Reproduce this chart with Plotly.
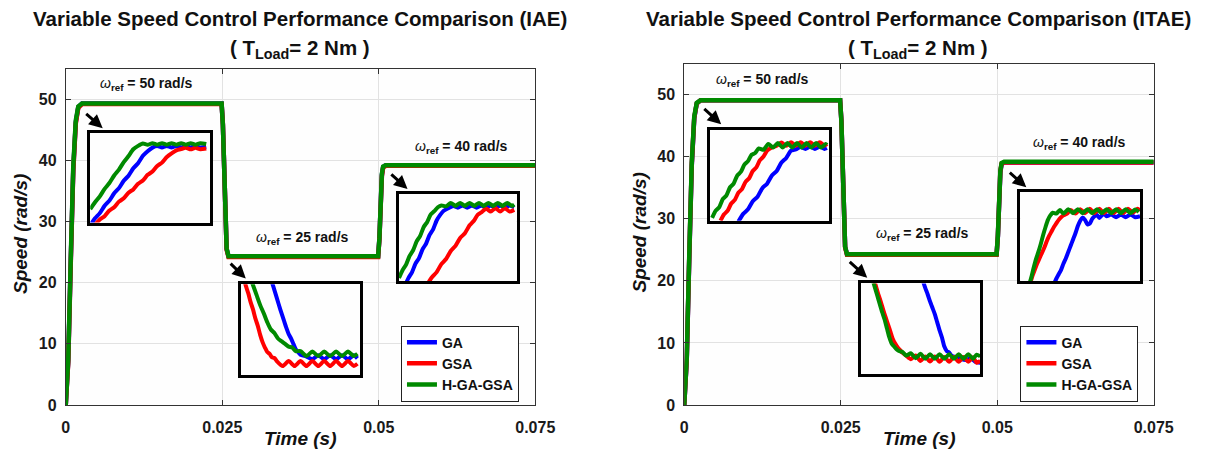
import plotly.graph_objects as go

FONT = "Liberation Sans, Arial, Helvetica, sans-serif"
W, H = 1210, 463

# ---------------- data ----------------
x_ticks = [0, 0.025, 0.05, 0.075]
x_tick_labels = ["0", "0.025", "0.05", "0.075"]
y_ticks = [0, 10, 20, 30, 40, 50]
y_tick_labels = ["0", "10", "20", "30", "40", "50"]
series_names = ["GA", "GSA", "H-GA-GSA"]
series_colors = ["#0000FF", "#FF0000", "#008A00"]

# main time-speed responses (s, rad/s)
t_main = [0, 0.0004, 0.0008, 0.0012, 0.0016, 0.0020, 0.0026, 0.0249, 0.0251, 0.0253,
          0.0255, 0.0257, 0.0260, 0.0499, 0.0501, 0.0503, 0.0505, 0.0507, 0.0511, 0.075]
iae_ga = [0, 7.2, 23.5, 38.5, 46.2, 48.7, 49.3, 49.3, 45.9, 37.9, 29.9, 25.5, 24.3, 24.3, 27.1, 33.2, 37.6, 38.9, 39.2, 39.2]
iae_gsa = [0, 7.0, 23.2, 38.2, 46.0, 48.6, 49.2, 49.2, 46.0, 38.0, 30.0, 25.4, 24.2, 24.2, 27.0, 33.0, 37.4, 38.8, 39.1, 39.1]
iae_hgagsa = [0, 7.5, 24, 39, 46.5, 48.8, 49.3, 49.3, 45.8, 37.8, 29.8, 25.6, 24.3, 24.3, 27.2, 33.5, 37.8, 39, 39.2, 39.2]
itae_ga = [0, 7.2, 23.5, 38.5, 46.2, 48.6, 49.1, 49.1, 45.9, 37.9, 29.9, 25.5, 24.3, 24.3, 27.1, 33.2, 37.5, 38.8, 39.1, 39.1]
itae_gsa = [0, 7.3, 23.7, 38.7, 46.3, 48.6, 49.1, 49.1, 45.9, 37.9, 29.9, 25.4, 24.2, 24.2, 27.2, 33.3, 37.7, 38.9, 39.1, 39.1]
itae_hgagsa = [0, 7.5, 24, 39, 46.5, 48.7, 49.1, 49.1, 45.8, 37.8, 29.8, 25.5, 24.3, 24.3, 27.3, 33.5, 37.8, 39, 39.2, 39.2]

# zoomed insets (normalised 0-100 within each inset window)
# IAE, omega_ref = 50
iae50_ga_x = [0, 4, 8, 12, 16, 20, 24, 28, 32, 36, 40, 44, 48, 52, 56, 60, 64, 68, 72, 76, 80, 84, 88, 92, 97]
iae50_ga_y = [-3, 4.8, 10.6, 18.8, 24.6, 32.8, 38.6, 46.8, 52.6, 60.8, 66.6, 74.8, 80, 84, 85.8, 84.2, 85.8, 84.2, 85.8, 84.2, 85.8, 84.2, 85.8, 84.2, 85]
iae50_gsa_x = [4, 8, 12, 16, 20, 24, 28, 32, 36, 40, 44, 48, 52, 56, 60, 64, 68, 72, 76, 80, 84, 88, 92, 97]
iae50_gsa_y = [-2.3, 3.5, 7.2, 13.5, 17.2, 23.5, 27.2, 33.5, 37.2, 43.5, 47.2, 53.5, 57.2, 63.5, 67.2, 73.5, 77.5, 81, 82.5, 83.8, 82.2, 83.8, 82.2, 83]
iae50_h_x = [0, 4, 8, 12, 16, 20, 24, 28, 32, 36, 40, 44, 48, 52, 56, 60, 64, 68, 72, 76, 80, 84, 88, 92, 97]
iae50_h_y = [15, 22.8, 29.4, 37.8, 44.4, 52.8, 59.4, 67.8, 74.6, 82.2, 86, 88.6, 87.2, 89, 87.3, 89, 87.3, 89, 87.3, 89, 87.3, 89, 87.3, 89, 88]
# IAE, omega_ref = 25
iae25_ga_x = [25, 27, 30, 33, 36, 38, 40, 42, 44, 46, 48, 50, 55, 60, 65, 70, 75, 80, 85, 90, 95, 98]
iae25_ga_y = [106, 98, 85, 72, 60, 52, 45, 40, 34, 28, 25, 22, 20, 17, 21.5, 17, 21.5, 17, 21.5, 17, 21.5, 18]
iae25_gsa_x = [2, 4, 6, 8, 10, 12, 14, 16, 18, 20, 22, 24, 26, 28, 30, 35, 40, 45, 50, 55, 60, 65, 70, 75, 80, 85, 90, 95, 98]
iae25_gsa_y = [108, 98, 90, 80, 72, 62, 54, 44, 36, 30, 25, 23, 19, 18.5, 15, 9.5, 15, 9.5, 15, 9.5, 15, 9.5, 15, 9.5, 15, 9.5, 15, 9.5, 12]
iae25_h_x = [8, 10, 13, 16, 19, 22, 25, 28, 31, 34, 37, 40, 43, 46, 50, 55, 60, 65, 70, 75, 80, 85, 90, 95, 98]
iae25_h_y = [106, 99, 88, 77, 68, 58, 50, 46, 40, 37, 34, 31, 30, 26, 26, 20.5, 25.5, 20.5, 25.5, 20.5, 25.5, 20.5, 25.5, 20.5, 23]
# IAE, omega_ref = 40
iae40_ga_x = [5, 8, 11, 14, 17, 20, 23, 26, 29, 32, 35, 38, 42, 46, 50, 54, 58, 62, 66, 70, 74, 78, 82, 86, 90, 94, 98]
iae40_ga_y = [-5, 3.8, 10.4, 20.3, 26.7, 36.8, 43.2, 53.3, 59.7, 69.8, 76.2, 81, 84, 86.5, 84.5, 87, 84.5, 87, 84.5, 87, 84.5, 87, 84.5, 87, 84.5, 87, 85]
iae40_gsa_x = [24, 28, 32, 36, 40, 44, 48, 52, 56, 60, 64, 67, 70, 74, 78, 82, 86, 90, 94, 98]
iae40_gsa_y = [-3.5, 4.8, 10.7, 19.8, 25.7, 34.8, 40.7, 49.8, 55.2, 64.3, 70.2, 76.5, 79, 83.5, 80, 84, 80, 84, 80, 82]
iae40_h_x = [0, 3, 6, 9, 12, 15, 18, 21, 24, 27, 30, 33, 36, 40, 44, 48, 52, 56, 60, 64, 68, 72, 76, 80, 84, 88, 92, 96, 98]
iae40_h_y = [4, 12.8, 19.2, 29.3, 35.7, 45.8, 52.2, 62.3, 68.2, 76.8, 80.5, 85, 87, 86, 90, 86.5, 90, 86.5, 90, 86.5, 90, 86.5, 90, 86.5, 90, 86.5, 90, 86.5, 88]
# ITAE, omega_ref = 50
itae50_ga_x = [24, 28, 32, 36, 40, 44, 48, 52, 56, 60, 64, 68, 72, 76, 80, 84, 88, 92, 96, 98]
itae50_ga_y = [-1, 7.5, 12.5, 21.5, 26.5, 36, 41, 50, 55, 64.5, 69.5, 77.5, 79, 81.5, 79.5, 82, 79.5, 82, 79.5, 80.5]
itae50_gsa_x = [9, 12, 15, 18, 21, 24, 27, 30, 33, 36, 39, 42, 45, 48, 52, 56, 60, 64, 68, 72, 76, 80, 84, 88, 92, 96, 98]
itae50_gsa_y = [0, 7, 11, 19, 23, 31, 35, 43, 47, 55, 59, 67, 71, 77.5, 81, 83, 86.5, 83, 87, 83, 87, 83, 87, 83, 87, 83, 85]
itae50_h_x = [2, 5, 8, 11, 14, 17, 20, 23, 26, 29, 32, 35, 38, 41, 45, 49, 53, 57, 61, 65, 69, 73, 77, 81, 85, 89, 93, 97, 98]
itae50_h_y = [3, 11, 15, 24, 28, 37, 41, 50, 54, 62, 66, 73, 75, 80, 78.5, 85, 81, 86, 81, 86, 81, 86, 81, 86, 81, 86, 81, 85, 84]
# ITAE, omega_ref = 25
itae25_ga_x = [52, 54, 56, 58, 60, 62, 64, 66, 68, 70, 72, 74, 76, 80, 84, 88, 92, 96, 100]
itae25_ga_y = [103, 95, 88, 80, 73, 66, 57, 48, 40, 30, 25, 23.5, 20, 18, 16, 15, 17, 13, 12]
itae25_gsa_x = [11, 13, 15, 17, 19, 21, 23, 25, 27, 29, 31, 33, 35, 38, 42, 46, 50, 54, 58, 62, 66, 70, 74, 78, 82, 86, 90, 94, 97, 100]
itae25_gsa_y = [105, 96, 87, 79, 70, 62, 54, 46, 38, 33, 29, 26, 23, 20, 16, 20, 14, 19, 13.5, 19, 13, 18.5, 13, 18.5, 13, 18.5, 13, 18, 12, 14]
itae25_h_x = [10, 12, 14, 16, 18, 20, 22, 24, 26, 28, 30, 32, 35, 38, 42, 46, 50, 54, 58, 62, 66, 70, 74, 78, 82, 86, 90, 94, 97, 100]
itae25_h_y = [104, 95, 86, 77, 68, 60, 50, 40, 33, 30, 27, 25, 24, 20, 22.5, 17, 22, 16.5, 21.5, 16.5, 21.5, 16.5, 21.5, 16.5, 21.5, 16.5, 21.5, 16.5, 21, 19]
# ITAE, omega_ref = 40
itae40_ga_x = [28, 30, 32, 34, 36, 38, 40, 42, 44, 46, 48, 50, 52, 54, 56, 58, 60, 62, 64, 66, 68, 70, 72, 76, 80, 84, 88, 92, 96, 100]
itae40_ga_y = [-3, 3, 8, 13, 20, 26, 33, 40, 47, 54, 62, 68, 71.5, 69, 64, 65, 70, 73, 74.5, 71, 74, 76, 73, 75, 72, 75, 72, 75, 72, 73]
itae40_gsa_x = [8, 10, 12, 14, 16, 18, 20, 22, 24, 26, 28, 30, 32, 34, 36, 39, 42, 46, 50, 54, 58, 62, 66, 70, 74, 78, 82, 86, 90, 94, 98, 100]
itae40_gsa_y = [-3, 6, 13, 20, 26, 32, 38, 45, 51, 56, 61, 65, 69, 72, 74, 76, 80, 76, 81, 76.5, 81.5, 76.5, 81.5, 76.5, 81.5, 76.5, 81.5, 76.5, 81.5, 77, 81.5, 79]
itae40_h_x = [7, 9, 11, 13, 15, 17, 19, 21, 23, 25, 27, 30, 33, 36, 40, 44, 48, 52, 56, 60, 64, 68, 72, 76, 80, 84, 88, 92, 96, 99]
itae40_h_y = [-5, 4, 15, 25, 33, 42, 52, 61, 69, 74, 77, 76, 80, 76, 81, 76.5, 81, 76.5, 81, 76.5, 81, 76.5, 81, 76.5, 81, 76.5, 81, 76.5, 80.5, 78]

titles = ["Variable Speed Control Performance Comparison (IAE)",
          "Variable Speed Control Performance Comparison (ITAE)"]
subtitle = "( T<sub>Load</sub>= 2 Nm )"
ref_labels = ["50", "25", "40"]

# ---------------- layout helpers (pixel geometry) ----------------
def px(x):
    return x / W

def py(y):
    return 1 - y / H

panels = [
    dict(x0=63, x1=542, y0=70, y1=413),
    dict(x0=694, x1=1173, y0=65, y1=413),
]
inset_boxes = [
    (88, 210, 136, 227), (242, 363, 290, 382), (403, 523, 198, 287),
    (720, 842, 133, 225), (874, 996, 289, 381), (1037, 1159, 196, 287),
]

fig = go.Figure()

main_sets = [
    [iae_ga, iae_gsa, iae_hgagsa],
    [itae_ga, itae_gsa, itae_hgagsa],
]
for p, sets in enumerate(main_sets):
    ax = "" if p == 0 else "2"
    for k, ys in enumerate(sets):
        fig.add_trace(go.Scatter(
            x=t_main, y=ys, mode="lines", name=series_names[k],
            line=dict(color=series_colors[k], width=4.5),
            xaxis="x" + ax, yaxis="y" + ax,
            legend="legend" if p == 0 else "legend2",
        ))

inset_data = [
    [(iae50_ga_x, iae50_ga_y), (iae50_gsa_x, iae50_gsa_y), (iae50_h_x, iae50_h_y)],
    [(iae25_ga_x, iae25_ga_y), (iae25_gsa_x, iae25_gsa_y), (iae25_h_x, iae25_h_y)],
    [(iae40_ga_x, iae40_ga_y), (iae40_gsa_x, iae40_gsa_y), (iae40_h_x, iae40_h_y)],
    [(itae50_ga_x, itae50_ga_y), (itae50_gsa_x, itae50_gsa_y), (itae50_h_x, itae50_h_y)],
    [(itae25_ga_x, itae25_ga_y), (itae25_gsa_x, itae25_gsa_y), (itae25_h_x, itae25_h_y)],
    [(itae40_ga_x, itae40_ga_y), (itae40_gsa_x, itae40_gsa_y), (itae40_h_x, itae40_h_y)],
]
for i, ser in enumerate(inset_data):
    n = str(i + 3)
    for k, (xs, ys) in enumerate(ser):
        fig.add_trace(go.Scatter(
            x=xs, y=ys, mode="lines", showlegend=False,
            line=dict(color=series_colors[k], width=4, shape="spline", smoothing=0.6),
            xaxis="x" + n, yaxis="y" + n, hoverinfo="skip",
        ))

tickfont = dict(family=FONT, size=16, color="#1a1a1a", weight="bold")
layout = dict(
    width=W, height=H, margin=dict(l=0, r=0, t=0, b=0),
    paper_bgcolor="white", plot_bgcolor="#fefefe",
    font=dict(family=FONT, color="#111111"),
    annotations=[],
)
for p, g in enumerate(panels):
    ax = "" if p == 0 else "2"
    layout["xaxis" + ax] = dict(
        domain=[px(g["x0"]), px(g["x1"])], range=[0, 0.075], anchor="y" + ax,
        tickvals=x_ticks, ticktext=x_tick_labels, tickfont=tickfont,
        showgrid=True, gridcolor="#E2E2E2", gridwidth=1, zeroline=False,
        showline=True, linecolor="#333333", linewidth=1, mirror="ticks",
        ticks="inside", ticklen=5, tickcolor="#333333", ticklabelstandoff=8,
    )
    layout["yaxis" + ax] = dict(
        domain=[py(g["y1"]), py(g["y0"])], range=[0, 55], anchor="x" + ax,
        tickvals=y_ticks, ticktext=y_tick_labels, tickfont=tickfont,
        showgrid=True, gridcolor="#E2E2E2", gridwidth=1, zeroline=False,
        showline=True, linecolor="#333333", linewidth=1, mirror="ticks",
        ticks="inside", ticklen=5, tickcolor="#333333", ticklabelstandoff=5,
    )
for i, (x0, x1, y0, y1) in enumerate(inset_boxes):
    n = str(i + 3)
    common = dict(showgrid=False, zeroline=False, showticklabels=False, ticks="",
                  showline=True, linecolor="black", linewidth=3, mirror=True,
                  range=[0, 100], fixedrange=True)
    layout["xaxis" + n] = dict(domain=[px(x0), px(x1)], anchor="y" + n, **common)
    layout["yaxis" + n] = dict(domain=[py(y1), py(y0)], anchor="x" + n, **common)

legend_common = dict(
    bgcolor="white", bordercolor="#222222", borderwidth=1,
    font=dict(family=FONT, size=14, color="#111111", weight="bold"),
    xanchor="left", yanchor="top", tracegroupgap=0, itemwidth=30,
)
layout["legend"] = dict(x=px(405), y=py(332), **legend_common)
layout["legend2"] = dict(x=px(1037), y=py(332), **legend_common)

ann = layout["annotations"]
title_cx = [302, 933]
for p in range(2):
    ann.append(dict(text="<b>" + titles[p] + "</b>", x=px(title_cx[p]), y=py(19),
                    xref="paper", yref="paper", showarrow=False, xanchor="center",
                    yanchor="middle", font=dict(family=FONT, size=20.5, color="#111111")))
    ann.append(dict(text="<b>" + subtitle + "</b>", x=px(title_cx[p]), y=py(50),
                    xref="paper", yref="paper", showarrow=False, xanchor="center",
                    yanchor="middle", font=dict(family=FONT, size=20.5, color="#111111")))

axis_titles = [((17, 239), (302, 447)), ((648, 237), (934, 447))]
for (yx, yy), (xx, xy) in axis_titles:
    ann.append(dict(text="<b><i>Speed (rad/s)</i></b>", x=px(yx), y=py(yy), xref="paper",
                    yref="paper", showarrow=False, textangle=-90, xanchor="center",
                    yanchor="middle", font=dict(family=FONT, size=19, color="#111111")))
    ann.append(dict(text="<b><i>Time (s)</i></b>", x=px(xx), y=py(xy), xref="paper",
                    yref="paper", showarrow=False, xanchor="center", yanchor="middle",
                    font=dict(family=FONT, size=19, color="#111111")))

ref_pos = [(145, 86), (305, 243), (467, 150), (774, 82), (937, 239), (1097, 146)]
for i, (cx, cy) in enumerate(ref_pos):
    val = ref_labels[i % 3]
    ann.append(dict(text="<i>ω</i><sub><b>ref</b></sub><b> = " + val + " rad/s</b>",
                    x=px(cx), y=py(cy), xref="paper", yref="paper", showarrow=False,
                    xanchor="center", yanchor="middle",
                    font=dict(family=FONT, size=14, color="#111111")))

arrows = [((82.7, 115), (100.7, 130.7)), ((230, 267.7), (246.7, 284)),
          ((394, 176.7), (411.7, 192.7)), ((713.3, 110), (731.7, 126.7)),
          ((861.7, 266), (880.7, 283.3)), ((1025, 175), (1043, 191))]
for (tx, ty), (hx, hy) in arrows:
    ann.append(dict(text="", x=px(hx), y=py(hy), xref="paper", yref="paper",
                    showarrow=True, ax=tx - hx, ay=ty - hy, arrowhead=2,
                    arrowsize=0.9, arrowwidth=3, arrowcolor="black", standoff=0))

fig.update_layout(**layout)
fig.write_html(
    "out.html",
    config={"displayModeBar": False},
    post_script="document.body.style.margin='0px';document.body.style.overflow='hidden';",
)
